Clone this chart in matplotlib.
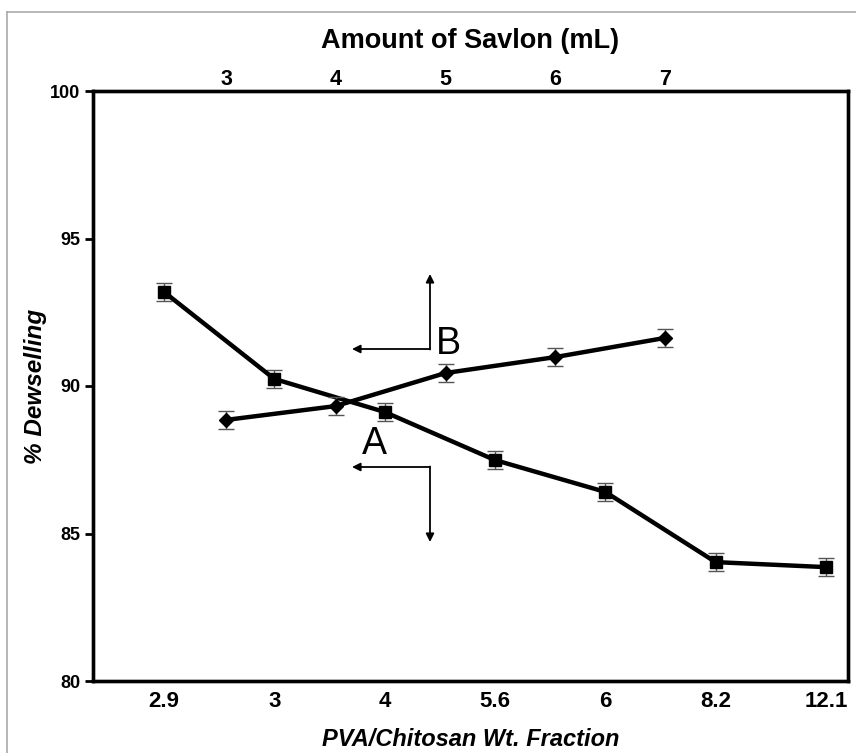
import matplotlib
matplotlib.use('Agg')
import matplotlib.pyplot as plt
from matplotlib.lines import Line2D

# bottom axis categories (PVA/Chitosan wt. fraction) and series A
fraction_labels = ['2.9', '3', '4', '5.6', '6', '8.2', '12.1']
dewsell_a = [93.19, 90.24, 89.12, 87.49, 86.41, 84.03, 83.86]
err_a = [0.3, 0.3, 0.3, 0.3, 0.3, 0.3, 0.3]

# top axis (amount of Savlon, mL) and series B
savlon_ml = [3, 4, 5, 6, 7]
dewsell_b = [88.85, 89.32, 90.44, 90.98, 91.63]
err_b = [0.3, 0.3, 0.3, 0.3, 0.3]

y_ticks = [80, 85, 90, 95, 100]

plt.rcParams['font.family'] = ['Liberation Sans', 'DejaVu Sans']

W, H = 856, 753
fig = plt.figure(figsize=(W / 100, H / 100), dpi=100)
ax = fig.add_axes([93 / W, 1 - 681 / H, (848 - 93) / W, (681 - 91) / H])

idx = list(range(len(fraction_labels)))
ax.errorbar(idx, dewsell_a, yerr=err_a, color='black', lw=3.2, marker='s',
            markersize=8, ecolor='#555555', elinewidth=1.0, capsize=6,
            capthick=1.0, zorder=3)
ax.set_xlim(-0.643, 6.2)
ax.set_ylim(80, 100)
ax.set_yticks(y_ticks)
ax.set_xticks(idx)
ax.set_xticklabels(fraction_labels)
ax.tick_params(axis='x', length=0, pad=7, labelsize=16)
ax.tick_params(axis='y', length=6, width=2, direction='out', labelsize=13, pad=3)
for lab in ax.get_xticklabels() + ax.get_yticklabels():
    lab.set_fontweight('bold')
for sp in ax.spines.values():
    sp.set_linewidth(2.4)

ax.set_xlabel('PVA/Chitosan Wt. Fraction', fontsize=17, fontweight='bold',
              style='italic', labelpad=12)
ax.set_ylabel('% Dewselling', fontsize=17.5, fontweight='bold', style='italic',
              labelpad=2)

# top axis for series B
top = ax.twiny()
top.errorbar(savlon_ml, dewsell_b, yerr=err_b, color='black', lw=3.2,
             marker='D', markersize=7, ecolor='#555555', elinewidth=1.0,
             capsize=6, capthick=1.0, zorder=3)
top.set_xlim(1.788, 8.667)
top.set_xticks(savlon_ml)
top.tick_params(axis='x', length=0, pad=1, labelsize=15.5)
for lab in top.get_xticklabels():
    lab.set_fontweight('bold')
for sp in top.spines.values():
    sp.set_linewidth(2.4)
top.set_xlabel('Amount of Savlon (mL)', fontsize=19.5, fontweight='bold',
               labelpad=15)

# curve labels with direction arrows (figure pixel coords, y from top)
def px(x, y):
    return (x / W, 1 - y / H)

arrow_kw = dict(arrowstyle='-|>', color='black', lw=1.3, mutation_scale=12,
                shrinkA=0, shrinkB=0)
# B: left arrow and up arrow
ax.annotate('', xy=px(352, 349), xytext=px(430, 349), xycoords='figure fraction',
            textcoords='figure fraction', arrowprops=arrow_kw)
ax.annotate('', xy=px(430, 274), xytext=px(430, 349.5), xycoords='figure fraction',
            textcoords='figure fraction', arrowprops=arrow_kw)
fig.text(*px(448, 344), 'B', fontsize=27, ha='center', va='center')
# A: left arrow and down arrow
ax.annotate('', xy=px(352, 467), xytext=px(430, 467), xycoords='figure fraction',
            textcoords='figure fraction', arrowprops=arrow_kw)
ax.annotate('', xy=px(430, 542), xytext=px(430, 466.5), xycoords='figure fraction',
            textcoords='figure fraction', arrowprops=arrow_kw)
fig.text(*px(374, 444), 'A', fontsize=27, ha='center', va='center')

# light grey frame at top and left of the picture
fig.add_artist(Line2D([7 / W, 1], [1 - 12 / H, 1 - 12 / H], color='#aaaaaa', lw=1.2))
fig.add_artist(Line2D([7 / W, 7 / W], [0, 1 - 12 / H], color='#aaaaaa', lw=1.2))

fig.savefig('out.png', dpi=100)
